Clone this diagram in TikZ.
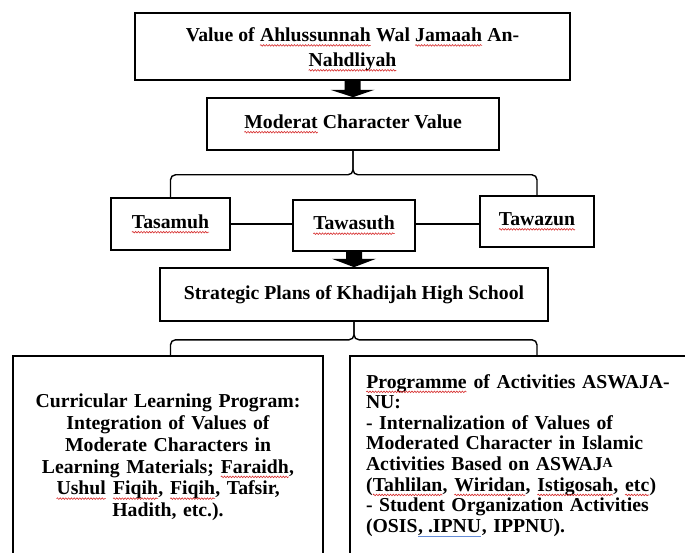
\documentclass[tikz,border=0pt]{standalone}
\usepackage{fontspec}
\setmainfont{Liberation Serif}
\usetikzlibrary{decorations.pathmorphing}
\definecolor{spellred}{RGB}{215,45,45}
\definecolor{spellblue}{RGB}{100,140,215}
\newcommand\spellsq[1]{\tikz[baseline=(w.base),x=1bp,y=1bp]{\node[draw=none,fill=none,inner sep=0pt,outer sep=0pt,text width={},minimum width=0pt,minimum height=0pt](w){#1};\draw[spellred,line width=0.6bp,decorate,decoration={snake,amplitude=0.8bp,segment length=2.8bp}]([yshift=-3.8bp]w.base west)--([yshift=-3.8bp]w.base east);}}
\newcommand\spellbl[1]{\tikz[baseline=(w.base),x=1bp,y=1bp]{\node[draw=none,fill=none,inner sep=0pt,outer sep=0pt,text width={},minimum width=0pt,minimum height=0pt](w){#1};\draw[spellblue,line width=1.3bp]([yshift=-3.8bp]w.base west)--([yshift=-3.8bp]w.base east);}}
\newcommand\blockarrow[3]{%
  \fill ([xshift=-8bp]#1.south) -- ([xshift=-8bp,yshift=-#3]#1.south) -- ([xshift=-22bp,yshift=-#3]#1.south) -- (#2.north) -- ([xshift=22bp,yshift=-#3]#1.south) -- ([xshift=8bp,yshift=-#3]#1.south) -- ([xshift=8bp]#1.south) -- cycle;}
\begin{document}
\begin{tikzpicture}[x=1bp,y=-1bp,
  box/.style={draw, line width=1.6bp, inner sep=0pt, align=center,
    font=\fontsize{19.8}{21}\selectfont\bfseries},
  conn/.style={line width=1.4bp, rounded corners=5bp}]
\useasboundingbox (0,0) rectangle (685,553);
\fill[white] (0,0) rectangle (685,553);
\clip (0,0) rectangle (685,553);

\node[box, minimum width=435bp, minimum height=67bp, font=\fontsize{19.8}{25}\selectfont\bfseries] (top) at (352.5,46.5)
  {\rule{0pt}{20bp}Value of \spellsq{Ahlussunnah} Wal \spellsq{Jamaah} An-\\\spellsq{Nahdliyah}};
\node[box, minimum width=292bp, minimum height=52bp] (mod) at (353,124) {\spellsq{Moderat} Character Value};
\node[box, minimum width=119bp, minimum height=52bp] (tas) at (170.5,224) {\spellsq{Tasamuh}};
\node[box, minimum width=122bp, minimum height=51bp] (taw) at (354,225.5) {\spellsq{Tawasuth}};
\node[box, minimum width=114bp, minimum height=51bp] (taz) at (537,221.5) {\spellsq{Tawazun}};
\node[box, minimum width=388bp, minimum height=53bp] (strat) at (354,294.5) {Strategic Plans of Khadijah High School};
\node[box, minimum width=310bp, minimum height=203bp, text width=294bp, font=\fontsize{19.8}{21.8}\selectfont\bfseries] (lbox) at (168,457.5)
  {Curricular Learning Program:\\Integration of Values of\\Moderate Characters in\\Learning Materials; \spellsq{Faraidh},\\\spellsq{Ushul} \spellsq{Fiqih}, \spellsq{Fiqih}, Tafsir,\\Hadith, etc.).};
\node[box, align=left, minimum width=350bp, minimum height=199bp, text width=318bp, font=\fontsize{19.8}{20.7}\selectfont\bfseries] (rbox) at (525,455.5)
  {\spellsq{Programme} of Activities ASWAJA-\\NU:\\- Internalization of Values of\\Moderated Character in Islamic\\Activities Based on ASWAJ\raisebox{3.3bp}{\fontsize{14}{14}\selectfont A}\\(\spellsq{Tahlilan}, \spellsq{Wiridan}, \spellsq{Istigosah}, \spellsq{etc})\\- Student Organization Activities\\(OSIS\spellbl{, .IPNU}, IPPNU).};

\blockarrow{top}{mod}{9bp}
\blockarrow{taw}{strat}{7bp}

\draw[conn] (tas.north) |- ([yshift=-24bp]mod.south) -- (mod.south);
\draw[conn] (taz.north) |- ([yshift=-24bp]mod.south) -- (mod.south);
\draw[conn] (tas.east) -- (tas.east -| taw.west);
\draw[conn] (taw.east |- tas.east) -- (taz.west |- tas.east);
\draw[conn] (lbox.north -| tas.north) |- ([yshift=-18bp]strat.south) -- (strat.south);
\draw[conn] (rbox.north -| taz.north) |- ([yshift=-18bp]strat.south) -- (strat.south);
\end{tikzpicture}
\end{document}
